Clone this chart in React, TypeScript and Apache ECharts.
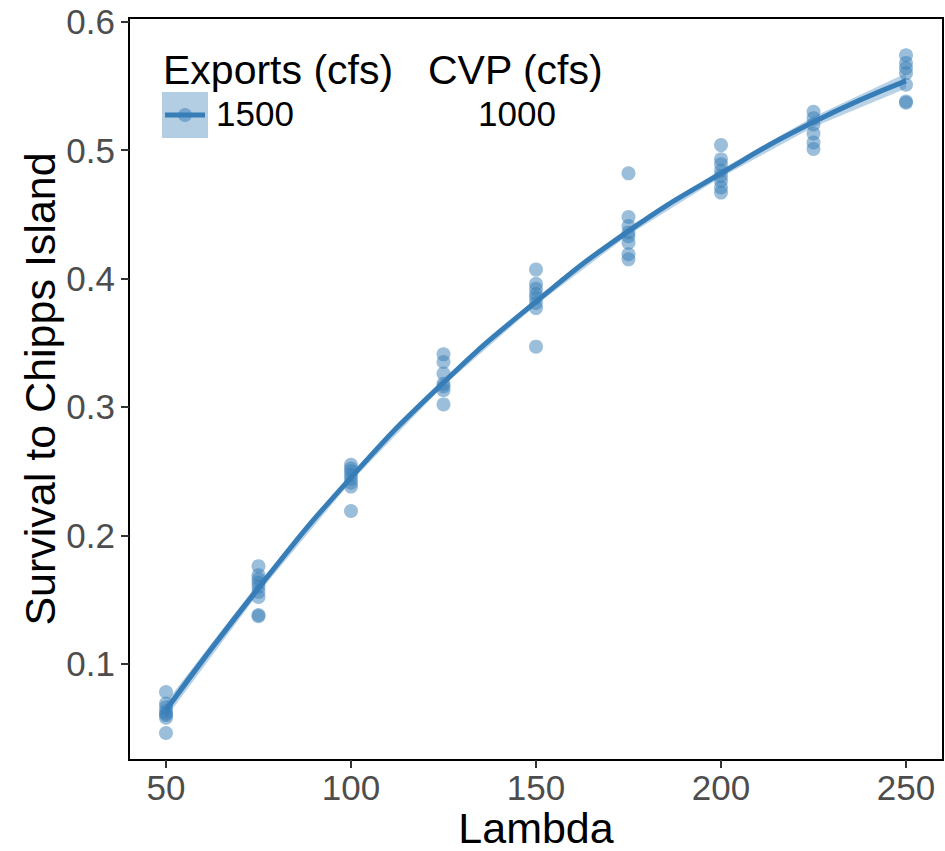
import React, { useEffect, useRef } from "react";
import * as echarts from "echarts";

const lambdas = [50, 75, 100, 125, 150, 175, 200, 225, 250];
const obs50 = [0.078, 0.069, 0.066, 0.063, 0.061, 0.06, 0.058, 0.046];
const obs75 = [0.176, 0.169, 0.166, 0.163, 0.16, 0.156, 0.152, 0.138, 0.137];
const obs100 = [0.255, 0.252, 0.25, 0.247, 0.244, 0.241, 0.238, 0.219];
const obs125 = [0.341, 0.335, 0.326, 0.318, 0.316, 0.313, 0.302];
const obs150 = [0.407, 0.396, 0.392, 0.388, 0.385, 0.381, 0.377, 0.347];
const obs175 = [0.482, 0.448, 0.441, 0.436, 0.433, 0.428, 0.419, 0.415];
const obs200 = [0.504, 0.493, 0.489, 0.484, 0.48, 0.476, 0.471, 0.467];
const obs225 = [0.53, 0.525, 0.52, 0.513, 0.506, 0.501];
const obs250 = [0.574, 0.568, 0.564, 0.56, 0.551, 0.538, 0.537];
const observed = [obs50, obs75, obs100, obs125, obs150, obs175, obs200, obs225, obs250];

const fitValues = [0.064, 0.159, 0.245, 0.319, 0.382, 0.437, 0.482, 0.522, 0.554];
const ciLower = [0.058, 0.155, 0.242, 0.3165, 0.3795, 0.434, 0.479, 0.518, 0.548];
const ciUpper = [0.07, 0.163, 0.248, 0.3215, 0.3845, 0.44, 0.485, 0.526, 0.56];

const xTicks = [50, 100, 150, 200, 250];
const yTicks = [0.1, 0.2, 0.3, 0.4, 0.5, 0.6];

const BLUE = "#377EB8";
const FONT = "Liberation Sans, Arial, sans-serif";

export default function App() {
  const ref = useRef<HTMLDivElement>(null);
  useEffect(() => {
    if (!ref.current) return;
    const chart = echarts.init(ref.current, undefined, { renderer: "svg" });
    const points: number[][] = [];
    observed.forEach((arr, i) => arr.forEach((v) => points.push([lambdas[i], v])));
    const fit = lambdas.map((x, i) => [x, fitValues[i]]);
    const ribbonData = lambdas.map((x, i) => [x, ciLower[i], ciUpper[i]]);

    chart.setOption({
      animation: false,
      grid: {
        left: 129,
        top: 18,
        width: 814,
        height: 742,
        containLabel: false,
        outerBoundsMode: "none",
        show: true,
        borderColor: "#000",
        borderWidth: 2,
        backgroundColor: "#fff",
      },
      xAxis: {
        type: "value",
        min: 40,
        max: 260,
        name: "Lambda",
        nameLocation: "middle",
        nameGap: 50,
        nameMoveOverlap: false,
        nameTextStyle: { fontSize: 43, lineHeight: 36, color: "#000", fontFamily: FONT },
        splitLine: { show: false },
        axisLine: { show: true, lineStyle: { color: "#000", width: 2 } },
        axisTick: {
          show: true,
          length: 8,
          customValues: xTicks,
          lineStyle: { color: "#333", width: 2 },
        },
        axisLabel: {
          customValues: xTicks,
          fontSize: 35,
          lineHeight: 30,
          color: "#4D4D4D",
          margin: 12,
          fontFamily: FONT,
        },
      },
      yAxis: {
        type: "value",
        min: 0.025,
        max: 0.603,
        name: "Survival to Chipps Island",
        nameLocation: "middle",
        nameGap: 68,
        nameRotate: 90,
        nameMoveOverlap: false,
        nameTextStyle: { fontSize: 43, color: "#000", fontFamily: FONT },
        splitLine: { show: false },
        axisLine: { show: true, lineStyle: { color: "#000", width: 2 } },
        axisTick: {
          show: true,
          length: 8,
          customValues: yTicks,
          lineStyle: { color: "#333", width: 2 },
        },
        axisLabel: {
          customValues: yTicks,
          fontSize: 35,
          color: "#4D4D4D",
          margin: 14,
          fontFamily: FONT,
          formatter: (v: number) => v.toFixed(1),
        },
      },
      series: [
        {
          type: "custom",
          data: ribbonData,
          silent: true,
          z: 1,
          renderItem: (params: any, api: any) => {
            if (params.dataIndex !== 0) return null;
            const upper = ribbonData.map((d) => api.coord([d[0], d[2]]));
            const lower = ribbonData.map((d) => api.coord([d[0], d[1]])).reverse();
            return {
              type: "polygon",
              shape: { points: upper.concat(lower) },
              style: { fill: BLUE, opacity: 0.35 },
            };
          },
        },
        {
          type: "line",
          data: fit,
          smooth: true,
          symbol: "none",
          lineStyle: { color: BLUE, width: 5 },
          z: 2,
        },
        {
          type: "scatter",
          data: points,
          symbolSize: 14,
          itemStyle: { color: BLUE, opacity: 0.5 },
          z: 3,
        },
      ],
      graphic: [
        {
          type: "text",
          left: 163,
          top: 49,
          style: { text: "Exports (cfs)", fontSize: 41, fill: "#000", fontFamily: FONT },
        },
        {
          type: "text",
          left: 428,
          top: 49,
          style: { text: "CVP (cfs)", fontSize: 41, fill: "#000", fontFamily: FONT },
        },
        {
          type: "rect",
          shape: { x: 162, y: 92, width: 46, height: 46 },
          style: { fill: "#B3CDE3" },
        },
        {
          type: "line",
          shape: { x1: 165, y1: 115, x2: 205, y2: 115 },
          style: { stroke: BLUE, lineWidth: 5 },
        },
        {
          type: "circle",
          shape: { cx: 185, cy: 115, r: 7 },
          style: { fill: BLUE, opacity: 0.5 },
        },
        {
          type: "text",
          left: 216,
          top: 96,
          style: { text: "1500", fontSize: 35, fill: "#000", fontFamily: FONT },
        },
        {
          type: "text",
          left: 478,
          top: 96,
          style: { text: "1000", fontSize: 35, fill: "#000", fontFamily: FONT },
        },
      ],
    });
    return () => chart.dispose();
  }, []);
  return (
    <div
      ref={ref}
      style={{ position: "absolute", left: 0, top: 0, width: 945, height: 851 }}
    />
  );
}
